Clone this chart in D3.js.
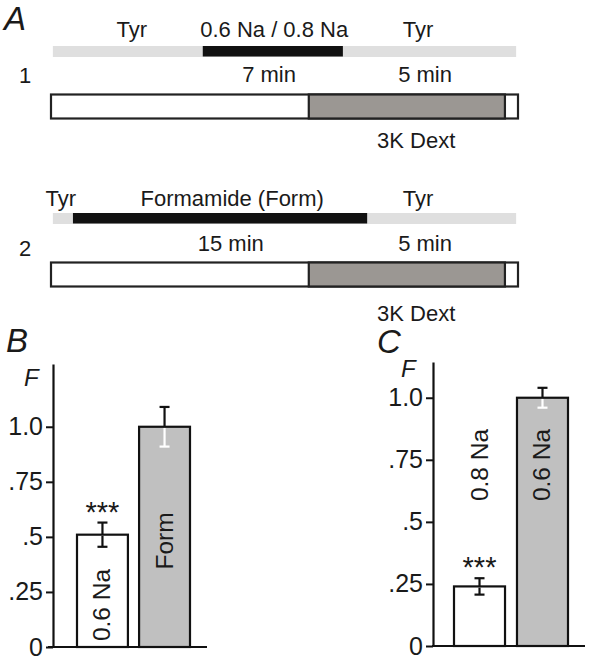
<!DOCTYPE html>
<html>
<head>
<meta charset="utf-8">
<script src="https://cdn.jsdelivr.net/npm/d3@7"></script>
<style>
  html, body { margin: 0; padding: 0; background: #fff; }
  svg { display: block; }
  text { font-family: "Liberation Sans", Arial, sans-serif; fill: #1a1a1a; }
</style>
</head>
<body>
<svg id="chart" width="602" height="661"></svg>
<script>
// ---------- DATA ----------
// Panel A: protocol timelines (arbitrary time units, 0..100 across the record)
const protoNames = ["1", "2"];
const stripSpan = [0.4, 99.6];                 // light gray "Tyr" perfusion strip
const blackSeg1 = [32.5, 62.5];                // 0.6 Na / 0.8 Na application
const blackSeg2 = [4.7, 67.7];                 // Formamide application
const dextSeg = [55.2, 97.2];                  // 3K Dext segment in record box
const topLabels1 = ["Tyr", "0.6 Na / 0.8 Na", "Tyr"];
const topLabelPos1 = [17.3, 47.8, 78.6];
const topLabels2 = ["Tyr", "Formamide (Form)", "Tyr"];
const topLabelPos2 = [2.1, 38.8, 78.6];
const durLabels1 = ["7 min", "5 min"];
const durLabelPos1 = [46.7, 80.1];
const durLabels2 = ["15 min", "5 min"];
const durLabelPos2 = [38.5, 80.1];
const dextLabel = "3K Dext";
const dextLabelPos = 78.2;

// Panels B and C: bar charts
const catsB = ["0.6 Na", "Form"];
const valsB = [0.51, 1.0];
const errsB = [0.055, 0.09];
const fillB = ["#ffffff", "#c0c0c0"];
const catsC = ["0.8 Na", "0.6 Na"];
const valsC = [0.24, 1.0];
const errsC = [0.033, 0.04];
const fillC = ["#ffffff", "#c0c0c0"];
const yTicks = [0, 0.25, 0.5, 0.75, 1.0];
const yTickLabels = ["0", ".25", ".5", ".75", "1.0"];
const sigB = "***";
const sigC = "***";

// ---------- DRAW ----------
const svg = d3.select("#chart");
const FONT = '"Liberation Sans", Arial, sans-serif';

// ---- Panel A ----
svg.append("text").attr("x", 4).attr("y", 30).attr("font-size", 33)
  .attr("font-style", "italic").text("A");

const xT = d3.scaleLinear().domain([0, 100]).range([51, 518]);

function protocol(g, cfg) {
  cfg.topLabels.forEach((t, i) => {
    g.append("text").attr("x", xT(cfg.topPos[i])).attr("y", cfg.yTop)
      .attr("text-anchor", "middle").attr("font-size", 22).text(t);
  });
  g.append("rect").attr("x", xT(stripSpan[0])).attr("width", xT(stripSpan[1]) - xT(stripSpan[0]))
    .attr("y", cfg.yStrip).attr("height", 11).attr("fill", "#dfdfdf");
  g.append("rect").attr("x", xT(cfg.black[0])).attr("width", xT(cfg.black[1]) - xT(cfg.black[0]))
    .attr("y", cfg.yStrip).attr("height", 10.5).attr("fill", "#111");
  g.append("text").attr("x", 25).attr("y", cfg.yNum).attr("text-anchor", "middle")
    .attr("font-size", 22).text(cfg.name);
  cfg.durLabels.forEach((t, i) => {
    g.append("text").attr("x", xT(cfg.durPos[i])).attr("y", cfg.yDur)
      .attr("text-anchor", "middle").attr("font-size", 22).text(t);
  });
  g.append("rect").attr("x", xT(0)).attr("width", xT(100) - xT(0))
    .attr("y", cfg.yBox).attr("height", 24).attr("fill", "#fff")
    .attr("stroke", "#222").attr("stroke-width", 2.2);
  g.append("rect").attr("x", xT(dextSeg[0])).attr("width", xT(dextSeg[1]) - xT(dextSeg[0]))
    .attr("y", cfg.yBox).attr("height", 24).attr("fill", "#9b9793")
    .attr("stroke", "#222").attr("stroke-width", 2.2);
  g.append("text").attr("x", xT(dextLabelPos)).attr("y", cfg.yDext)
    .attr("text-anchor", "middle").attr("font-size", 22).text(dextLabel);
}

protocol(svg.append("g"), {
  name: protoNames[0], topLabels: topLabels1, topPos: topLabelPos1, black: blackSeg1,
  durLabels: durLabels1, durPos: durLabelPos1,
  yTop: 37, yStrip: 46, yNum: 83, yDur: 82, yBox: 94.5, yDext: 148
});
protocol(svg.append("g"), {
  name: protoNames[1], topLabels: topLabels2, topPos: topLabelPos2, black: blackSeg2,
  durLabels: durLabels2, durPos: durLabelPos2,
  yTop: 206, yStrip: 213, yNum: 256, yDur: 251, yBox: 262.5, yDext: 321
});

// ---- Bar panels ----
function barPanel(cfg) {
  const g = svg.append("g");
  g.append("text").attr("x", cfg.letterX).attr("y", cfg.letterY).attr("font-size", 33)
    .attr("font-style", "italic").text(cfg.letter);
  g.append("text").attr("x", cfg.fX).attr("y", cfg.fY).attr("font-size", 24)
    .attr("font-style", "italic").text("F");

  const y = d3.scaleLinear().domain([0, cfg.yMax]).range([cfg.y0, cfg.yTop]);
  const x = d3.scaleBand().domain(cfg.cats).range(cfg.xRange)
    .paddingInner(cfg.padInner).paddingOuter(0);

  g.selectAll("rect.bar").data(cfg.cats).enter().append("rect")
    .attr("class", "bar")
    .attr("x", d => x(d)).attr("width", x.bandwidth())
    .attr("y", (d, i) => y(cfg.vals[i]))
    .attr("height", (d, i) => y(0) - y(cfg.vals[i]))
    .attr("fill", (d, i) => cfg.fills[i])
    .attr("stroke", "#111").attr("stroke-width", 2.2);

  cfg.cats.forEach((c, i) => {
    const cx = x(c) + x.bandwidth() / 2;
    const v = cfg.vals[i], e = cfg.errs[i];
    const lowColor = cfg.fills[i] === "#ffffff" ? "#111" : "#fff";
    g.append("line").attr("x1", cx).attr("x2", cx).attr("y1", y(v)).attr("y2", y(v + e))
      .attr("stroke", "#111").attr("stroke-width", 2.2);
    g.append("line").attr("x1", cx - 5).attr("x2", cx + 5).attr("y1", y(v + e)).attr("y2", y(v + e))
      .attr("stroke", "#111").attr("stroke-width", 2.2);
    g.append("line").attr("x1", cx).attr("x2", cx).attr("y1", y(v) + 1.2).attr("y2", y(v - e))
      .attr("stroke", lowColor).attr("stroke-width", 2.2);
    g.append("line").attr("x1", cx - 5).attr("x2", cx + 5).attr("y1", y(v - e)).attr("y2", y(v - e))
      .attr("stroke", lowColor).attr("stroke-width", 2.2);
  });

  cfg.cats.forEach((c, i) => {
    const cx = x(c) + x.bandwidth() / 2;
    g.append("text")
      .attr("transform", `translate(${cx + 8},${cfg.labelY[i]}) rotate(-90)`)
      .attr("text-anchor", "middle").attr("font-size", 24.5).text(c);
  });

  const c0 = cfg.cats[0];
  g.append("text").attr("x", x(c0) + x.bandwidth() / 2).attr("y", y(cfg.vals[0] + cfg.errs[0]) - 1)
    .attr("text-anchor", "middle").attr("font-size", 29).text(cfg.sig);

  g.append("line").attr("x1", cfg.xAxis[0]).attr("x2", cfg.xAxis[1])
    .attr("y1", y(0)).attr("y2", y(0)).attr("stroke", "#111").attr("stroke-width", 2.2);

  const ax = g.append("g").attr("transform", `translate(${cfg.axisX},0)`)
    .call(d3.axisLeft(y).tickValues(yTicks)
      .tickFormat((d, i) => yTickLabels[i]).tickSize(7).tickPadding(3).tickSizeOuter(0));
  ax.select(".domain").attr("stroke", "#111").attr("stroke-width", 2.2);
  ax.selectAll(".tick line").attr("stroke", "#111").attr("stroke-width", 2);
  ax.selectAll(".tick text").attr("font-size", 25).attr("font-family", FONT).attr("fill", "#1a1a1a");
}

barPanel({
  letter: "B", letterX: 6, letterY: 352, fX: 24, fY: 386,
  cats: catsB, vals: valsB, errs: errsB, fills: fillB, sig: sigB,
  yMax: 1.285, y0: 647, yTop: 364, axisX: 53, xAxis: [48, 207],
  xRange: [77, 190], padInner: 0.18, labelY: [605, 541]
});
barPanel({
  letter: "C", letterX: 377, letterY: 353, fX: 401, fY: 377,
  cats: catsC, vals: valsC, errs: errsC, fills: fillC, sig: sigC,
  yMax: 1.144, y0: 646, yTop: 362, axisX: 433, xAxis: [432, 585],
  xRange: [454, 568], padInner: 0.19, labelY: [465, 465]
});
</script>
</body>
</html>
